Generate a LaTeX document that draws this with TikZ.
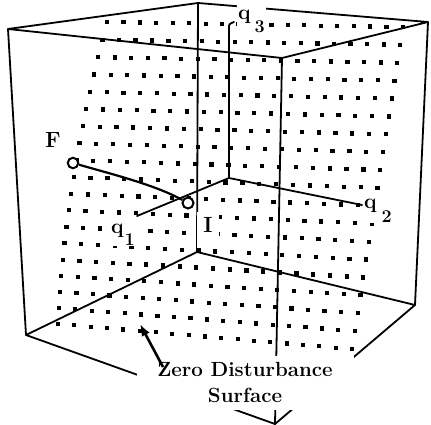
\documentclass[tikz,border=0pt]{standalone}
\usetikzlibrary{arrows.meta,calc}
\begin{document}
\begin{tikzpicture}[x=1pt,y=-1pt,
  edge/.style={line width=1.8pt, line cap=round, line join=round},
  lbl/.style={font=\fontsize{22}{26}\selectfont\bfseries, inner sep=1pt, fill=white},
  pt/.style={circle, draw, fill=white, line width=2pt, minimum size=10.5pt, inner sep=0pt},
]
\useasboundingbox (0,0) rectangle (431,425);
% dotted zero disturbance surface
\foreach \r in {0,...,18}{
  \pgfmathsetmacro{\t}{\r/18}
  \pgfmathsetmacro{\lx}{107-84.4*\t+35.4*\t*\t}
  \pgfmathsetmacro{\ly}{22+318*\t-16*\t*\t}
  \pgfmathsetmacro{\rx}{403-51*\t}
  \pgfmathsetmacro{\ry}{27+322*\t}
  \foreach \c in {0,...,18}{
    \pgfmathsetmacro{\px}{\lx+\c/18*(\rx-\lx)-2.1}
    \pgfmathsetmacro{\py}{\ly+\c/18*(\ry-\ly)-2.1}
    \fill (\px,\py) rectangle +(4.2,4.2);
  }
}
% cube corners
\coordinate (T1) at (8,29);
\coordinate (T2) at (198,3);
\coordinate (T3) at (428,22);
\coordinate (T4) at (282,58);
\coordinate (B1) at (26,335);
\coordinate (B2) at (197,252);
\coordinate (B3) at (415,305);
\coordinate (B4) at (275,424);
\draw[edge] (T1) -- (T2) -- (T3) -- (T4) -- cycle;
\draw[edge] (B1) -- (B2) -- (B3) -- (B4) -- cycle;
\draw[edge] (T1) -- (B1);
\draw[edge] (T2) -- (B2);
\draw[edge] (T3) -- (B3);
\draw[edge] (T4) -- (B4);
% axes
\coordinate (O) at (229,178);
\coordinate (q1end) at (137,216);
\coordinate (q2end) at (362,205);
\coordinate (q3end) at (229,28);
\coordinate (q3tip) at (234,22);
\draw[edge] (O) -- (q1end);
\draw[edge] (O) -- (q2end);
\draw[edge] (O) -- (q3end) .. controls (229,24) .. (q3tip);
% labels
\node[lbl, anchor=base] (Flab) at (53,148) {F};
\node[lbl, anchor=base, inner xsep=6pt, inner ysep=0pt, text height=20pt, text depth=16pt] (Ilab) at (208,232) {I};
\node[lbl, anchor=base west, text height=16pt, font=\fontsize{21}{26}\selectfont\bfseries] (q3lab) at (237,20) {q\hspace{4pt}\raisebox{-13pt}{\fontsize{18}{18}\selectfont\bfseries 3}};
\node[lbl, anchor=base west, font=\fontsize{21}{26}\selectfont\bfseries] (q2lab) at (363,208) {q\hspace{5pt}\raisebox{-14pt}{\fontsize{18}{18}\selectfont\bfseries 2}};
\node[lbl, anchor=base west, font=\fontsize{21}{26}\selectfont\bfseries] (q1lab) at (110,233) {q\hspace{1pt}\raisebox{-12pt}{\fontsize{18}{18}\selectfont\bfseries 1}};
\node[font=\fontsize{20.5}{26}\selectfont\bfseries, align=center, fill=white, minimum width=217pt, minimum height=54pt, inner sep=0pt] (zds) at (245,383) {Zero Disturbance\\Surface};
\coordinate (atail) at (163,367);
\coordinate (atip) at (140,324);
\draw[line width=2.6pt, -{Latex[length=12pt,width=9pt]}] (atail) -- (atip);
% states
\node[pt] (F) at (73,163) {};
\node[pt, minimum size=11pt] (I) at (188,203) {};
\draw[line width=2.2pt] (F) .. controls (115,175) and (155,185) .. (I);
\end{tikzpicture}
\end{document}
